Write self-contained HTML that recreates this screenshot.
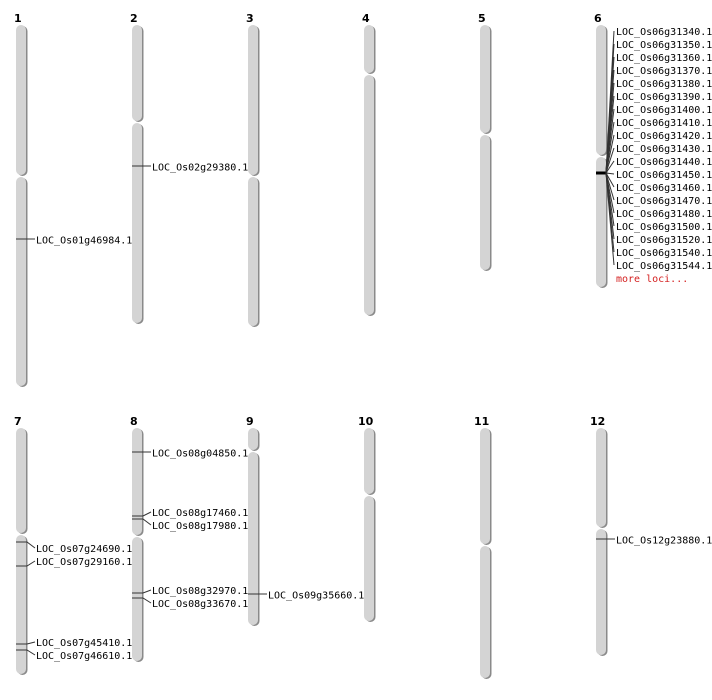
<!DOCTYPE html>
<html><head><style>
html,body{margin:0;padding:0;background:#fff;}
svg{display:block;}
text{font-family:"DejaVu Sans Mono","Liberation Mono",monospace;font-size:10px;fill:#000;}
.n{font-family:"DejaVu Sans","Liberation Sans",sans-serif;font-weight:bold;font-size:11px;}
.s{fill:#8a8a8a}.c{fill:#d4d4d4}
line{stroke:#333;stroke-width:1}
</style></head><body>
<svg width="712" height="700" viewBox="0 0 712 700" xmlns="http://www.w3.org/2000/svg">
<g>
<text class="n" x="14" y="22">1</text><text class="n" x="130" y="22">2</text><text class="n" x="246" y="22">3</text><text class="n" x="362" y="22">4</text><text class="n" x="478" y="22">5</text><text class="n" x="594" y="22">6</text>
<text class="n" x="14" y="425">7</text><text class="n" x="130" y="425">8</text><text class="n" x="246" y="425">9</text><text class="n" x="358" y="425">10</text><text class="n" x="474" y="425">11</text><text class="n" x="590" y="425">12</text>
</g>
<g>
<!-- chr1 -->
<rect class="s" x="17.5" y="26" width="10" height="150" rx="5"/><rect class="c" x="16" y="25" width="10" height="150" rx="5"/>
<rect class="s" x="17.5" y="178" width="10" height="209" rx="5"/><rect class="c" x="16" y="177" width="10" height="209" rx="5"/>
<!-- chr2 -->
<rect class="s" x="133.5" y="26" width="10" height="96" rx="5"/><rect class="c" x="132" y="25" width="10" height="96" rx="5"/>
<rect class="s" x="133.5" y="124" width="10" height="200" rx="5"/><rect class="c" x="132" y="123" width="10" height="200" rx="5"/>
<!-- chr3 -->
<rect class="s" x="249.5" y="26" width="10" height="150" rx="5"/><rect class="c" x="248" y="25" width="10" height="150" rx="5"/>
<rect class="s" x="249.5" y="178" width="10" height="149" rx="5"/><rect class="c" x="248" y="177" width="10" height="149" rx="5"/>
<!-- chr4 -->
<rect class="s" x="365.5" y="26" width="10" height="48" rx="5"/><rect class="c" x="364" y="25" width="10" height="48" rx="5"/>
<rect class="s" x="365.5" y="76" width="10" height="240" rx="5"/><rect class="c" x="364" y="75" width="10" height="240" rx="5"/>
<!-- chr5 -->
<rect class="s" x="481.5" y="26" width="10" height="108" rx="5"/><rect class="c" x="480" y="25" width="10" height="108" rx="5"/>
<rect class="s" x="481.5" y="136" width="10" height="135" rx="5"/><rect class="c" x="480" y="135" width="10" height="135" rx="5"/>
<!-- chr6 -->
<rect class="s" x="597.5" y="26" width="10" height="130" rx="5"/><rect class="c" x="596" y="25" width="10" height="130" rx="5"/>
<rect class="s" x="597.5" y="158" width="10" height="130" rx="5"/><rect class="c" x="596" y="157" width="10" height="130" rx="5"/>
<!-- chr7 -->
<rect class="s" x="17.5" y="429" width="10" height="105" rx="5"/><rect class="c" x="16" y="428" width="10" height="105" rx="5"/>
<rect class="s" x="17.5" y="536" width="10" height="139" rx="5"/><rect class="c" x="16" y="535" width="10" height="139" rx="5"/>
<!-- chr8 -->
<rect class="s" x="133.5" y="429" width="10" height="107" rx="5"/><rect class="c" x="132" y="428" width="10" height="107" rx="5"/>
<rect class="s" x="133.5" y="538" width="10" height="124" rx="5"/><rect class="c" x="132" y="537" width="10" height="124" rx="5"/>
<!-- chr9 -->
<rect class="s" x="249.5" y="429" width="10" height="22" rx="5"/><rect class="c" x="248" y="428" width="10" height="22" rx="5"/>
<rect class="s" x="249.5" y="453" width="10" height="173" rx="5"/><rect class="c" x="248" y="452" width="10" height="173" rx="5"/>
<!-- chr10 -->
<rect class="s" x="365.5" y="429" width="10" height="66" rx="5"/><rect class="c" x="364" y="428" width="10" height="66" rx="5"/>
<rect class="s" x="365.5" y="497" width="10" height="125" rx="5"/><rect class="c" x="364" y="496" width="10" height="125" rx="5"/>
<!-- chr11 -->
<rect class="s" x="481.5" y="429" width="10" height="116" rx="5"/><rect class="c" x="480" y="428" width="10" height="116" rx="5"/>
<rect class="s" x="481.5" y="547" width="10" height="132" rx="5"/><rect class="c" x="480" y="546" width="10" height="132" rx="5"/>
<!-- chr12 -->
<rect class="s" x="597.5" y="429" width="10" height="99" rx="5"/><rect class="c" x="596" y="428" width="10" height="99" rx="5"/>
<rect class="s" x="597.5" y="530" width="10" height="126" rx="5"/><rect class="c" x="596" y="529" width="10" height="126" rx="5"/>
</g>
<g>
<line x1="16" y1="239" x2="35" y2="239"/><text x="36" y="243.5">LOC_Os01g46984.1</text>
<line x1="132" y1="166" x2="151" y2="166"/><text x="152" y="170.5">LOC_Os02g29380.1</text>
<line x1="248" y1="594" x2="267" y2="594"/><text x="268" y="598.5">LOC_Os09g35660.1</text>
<line x1="596" y1="539" x2="615" y2="539"/><text x="616" y="543.5">LOC_Os12g23880.1</text>
<line x1="132" y1="452" x2="151" y2="452"/><text x="152" y="456.5">LOC_Os08g04850.1</text>
<!-- chr7 -->
<polyline points="16,542 27,542 35,548" fill="none" stroke="#333"/><text x="36" y="552">LOC_Os07g24690.1</text>
<polyline points="16,566 27,566 35,561" fill="none" stroke="#333"/><text x="36" y="565">LOC_Os07g29160.1</text>
<polyline points="16,644 27,644 35,642" fill="none" stroke="#333"/><text x="36" y="646">LOC_Os07g45410.1</text>
<polyline points="16,650 27,650 35,655" fill="none" stroke="#333"/><text x="36" y="659">LOC_Os07g46610.1</text>
<!-- chr8 -->
<polyline points="132,516 143,516 151,512" fill="none" stroke="#333"/><text x="152" y="516">LOC_Os08g17460.1</text>
<polyline points="132,519 143,519 151,525" fill="none" stroke="#333"/><text x="152" y="529">LOC_Os08g17980.1</text>
<polyline points="132,593 143,593 151,590" fill="none" stroke="#333"/><text x="152" y="594">LOC_Os08g32970.1</text>
<polyline points="132,598 143,598 151,603" fill="none" stroke="#333"/><text x="152" y="607">LOC_Os08g33670.1</text>
<!-- chr6 -->
<line x1="596" y1="173" x2="607" y2="173" style="stroke:#000;stroke-width:3"/>
<g stroke="#000" stroke-width="1">
<line x1="606" y1="173" x2="614" y2="31"/><line x1="606" y1="173" x2="614" y2="44"/><line x1="606" y1="173" x2="614" y2="57"/><line x1="606" y1="173" x2="614" y2="70"/><line x1="606" y1="173" x2="614" y2="83"/><line x1="606" y1="173" x2="614" y2="96"/><line x1="606" y1="173" x2="614" y2="109"/><line x1="606" y1="173" x2="614" y2="122"/><line x1="606" y1="173" x2="614" y2="135"/><line x1="606" y1="173" x2="614" y2="148"/><line x1="606" y1="173" x2="614" y2="161"/><line x1="606" y1="173" x2="614" y2="174"/><line x1="606" y1="173" x2="614" y2="187"/><line x1="606" y1="173" x2="614" y2="200"/><line x1="606" y1="173" x2="614" y2="213"/><line x1="606" y1="173" x2="614" y2="226"/><line x1="606" y1="173" x2="614" y2="239"/><line x1="606" y1="173" x2="614" y2="252"/><line x1="606" y1="173" x2="614" y2="265"/>
</g>
<g>
<text x="616" y="35">LOC_Os06g31340.1</text><text x="616" y="48">LOC_Os06g31350.1</text><text x="616" y="61">LOC_Os06g31360.1</text><text x="616" y="74">LOC_Os06g31370.1</text><text x="616" y="87">LOC_Os06g31380.1</text><text x="616" y="100">LOC_Os06g31390.1</text><text x="616" y="113">LOC_Os06g31400.1</text><text x="616" y="126">LOC_Os06g31410.1</text><text x="616" y="139">LOC_Os06g31420.1</text><text x="616" y="152">LOC_Os06g31430.1</text><text x="616" y="165">LOC_Os06g31440.1</text><text x="616" y="178">LOC_Os06g31450.1</text><text x="616" y="191">LOC_Os06g31460.1</text><text x="616" y="204">LOC_Os06g31470.1</text><text x="616" y="217">LOC_Os06g31480.1</text><text x="616" y="230">LOC_Os06g31500.1</text><text x="616" y="243">LOC_Os06g31520.1</text><text x="616" y="256">LOC_Os06g31540.1</text><text x="616" y="269">LOC_Os06g31544.1</text>
<text x="616" y="282" style="fill:#d42020">more loci...</text>
</g>
</g>
</svg>
</body></html>
